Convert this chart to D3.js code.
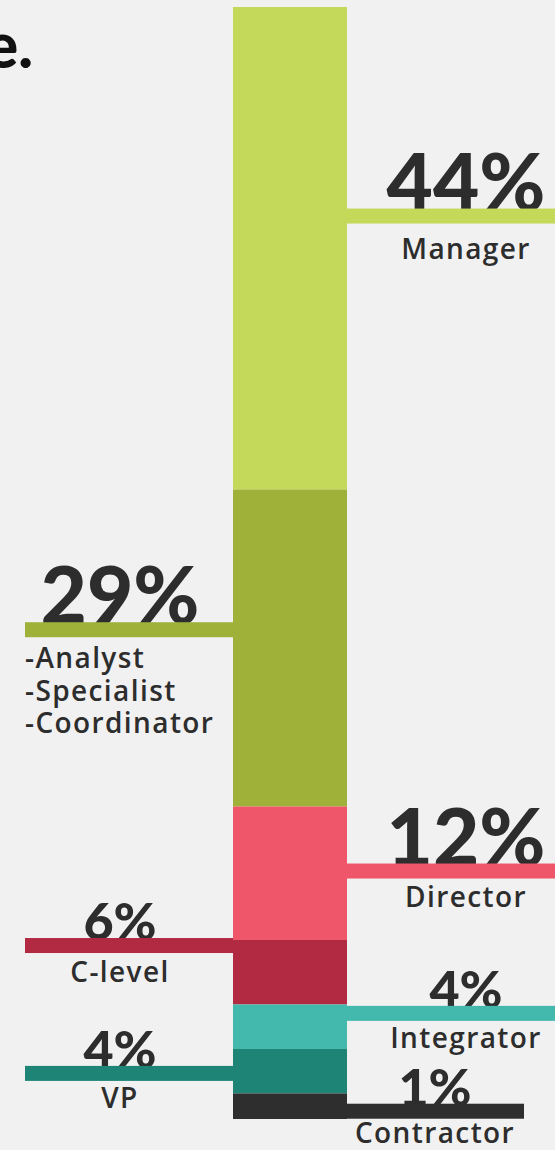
<!DOCTYPE html>
<html><head><meta charset="utf-8">
<script src="https://cdn.jsdelivr.net/npm/d3@7"></script>
<style>html,body{margin:0;padding:0;background:#f1f1f1;} svg{display:block}</style>
</head><body><svg id="c" width="555" height="1150"></svg>
<script>
// ---- data ----
const categories = ["Manager", "Analyst", "Director", "C-level", "Integrator", "VP", "Contractor"];
const shares = [43.4, 28.5, 12.0, 5.8, 4.0, 4.0, 2.3];          // column segment sizes (% of column)
const pctLabels = ["44%", "29%", "12%", "6%", "4%", "4%", "1%"];
const nameLabels = [["Manager"], ["-Analyst", "-Specialist", "-Coordinator"], ["Director"], ["C-level"], ["Integrator"], ["VP"], ["Contractor"]];
const leaderAt = [18.8, 56.0, 77.7, 84.4, 90.5, 95.9, 99.3];    // leader line position on column scale
const colors = ["#c4d85a", "#a0b13a", "#f0566a", "#b22a42", "#42b9ac", "#1e8576", "#2e2e2e"];

// ---- layout ----
const side = ["right", "left", "right", "left", "right", "left", "right"];
const bigPct = [true, true, true, false, false, false, false];
const labelDy = [35, 31, 28, 29, 27, 27, 24];
const W = 555, H = 1150;
const colLeft = 233, colRight = 347;
const leftLineX = 25, rightLineEnd = 600, contractorLineEnd = 524;
const lineW = 15;
const textColor = "#2d2d2d";

const svg = d3.select("#c");
svg.append("rect").attr("width", W).attr("height", H).attr("fill", "#f1f1f1");

const y = d3.scaleLinear().domain([0, 100]).range([7, 1119]);
const x = d3.scaleBand().domain(["all"]).range([colLeft, colRight]).padding(0);

let cum = 0;
const rows = categories.map((c, i) => {
  const r = {name: c, i, y0: cum, y1: cum + shares[i], color: colors[i], side: side[i]};
  cum += shares[i];
  return r;
});

// title fragment (cropped)
svg.append("text").attr("x", 33).attr("y", 68).attr("text-anchor", "end")
  .attr("font-family", "Lato").attr("font-weight", 900).attr("font-size", 62)
  .attr("fill", "#111").text("e.");

// column segments
svg.selectAll("rect.seg").data(rows).join("rect").attr("class", "seg")
  .attr("x", x("all")).attr("width", x.bandwidth())
  .attr("y", d => y(d.y0)).attr("height", d => y(d.y1) - y(d.y0))
  .attr("fill", d => d.color);

// text
rows.forEach(d => {
  const cy = y(leaderAt[d.i]);
  const top = cy - lineW / 2, bottom = cy + lineW / 2;
  let cx = d.side === "left" ? 120 : (d.name === "Contractor" ? 435 : 466);
  svg.append("text").attr("x", cx).attr("y", top + 2).attr("text-anchor", "middle")
    .attr("font-family", "Lato").attr("font-weight", 900)
    .attr("font-size", bigPct[d.i] ? 80 : 52).attr("fill", textColor)
    .text(pctLabels[d.i]);
  const lines = nameLabels[d.i];
  const multi = lines.length > 1;
  lines.forEach((t, k) => {
    svg.append("text")
      .attr("x", multi ? leftLineX : cx)
      .attr("y", bottom + labelDy[d.i] + k * 32.5)
      .attr("text-anchor", multi ? "start" : "middle")
      .attr("font-family", "'Open Sans'").attr("font-weight", 600).attr("font-size", 28)
      .attr("letter-spacing", 1.4).attr("fill", textColor)
      .text(t);
  });
});

// leader lines (drawn over text)
rows.forEach(d => {
  const cy = y(leaderAt[d.i]);
  let x0, x1;
  if (d.side === "left") { x0 = leftLineX; x1 = colLeft; }
  else { x0 = colRight; x1 = d.name === "Contractor" ? contractorLineEnd : rightLineEnd; }
  svg.append("rect").attr("x", x0).attr("width", x1 - x0)
    .attr("y", cy - lineW / 2).attr("height", lineW).attr("fill", d.color);
});
</script>
</body></html>
